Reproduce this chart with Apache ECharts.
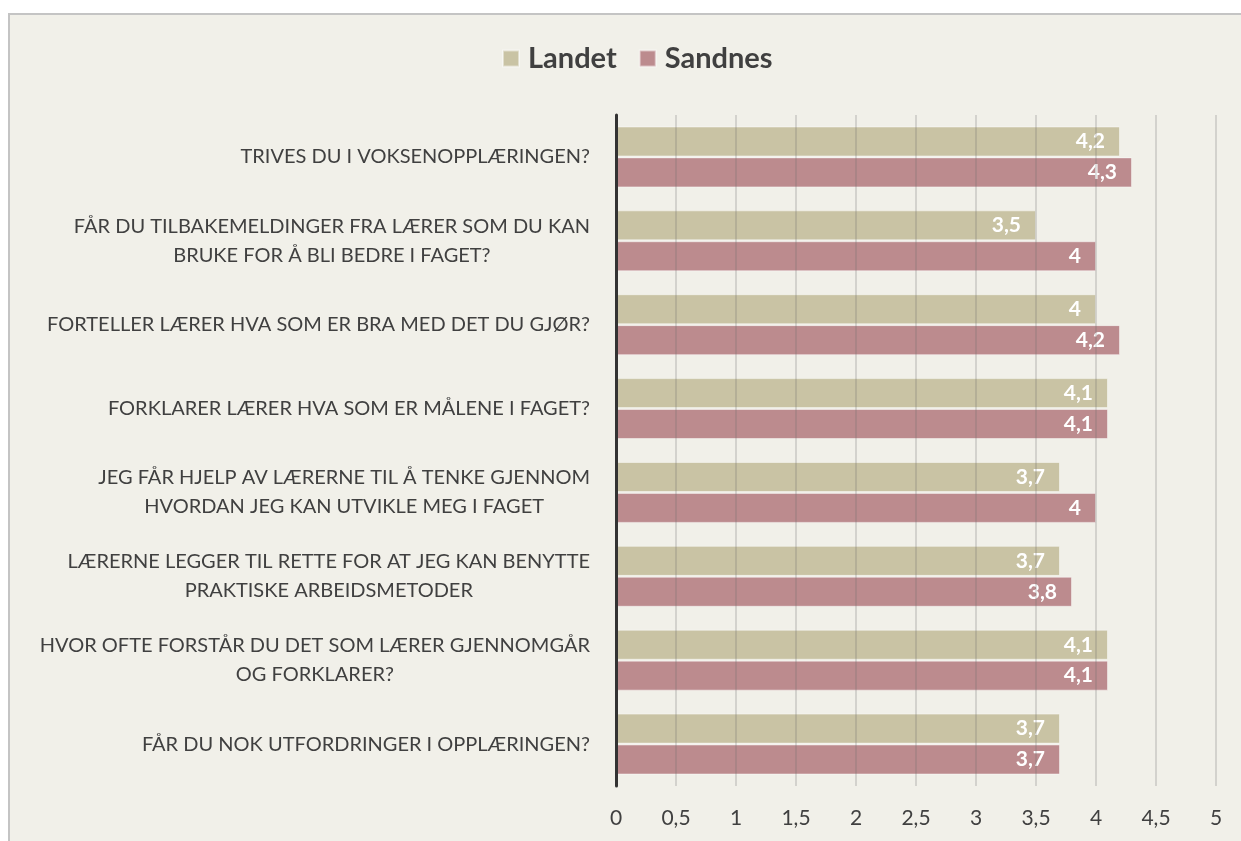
<!DOCTYPE html>
<html>
<head>
<meta charset="utf-8">
<script src="https://cdn.jsdelivr.net/npm/echarts@6/dist/echarts.min.js"></script>
<style>
  html, body { margin: 0; padding: 0; background: #ffffff; }
  #main { width: 1241px; height: 841px; }
</style>
</head>
<body>
<div id="main"></div>
<script>
// spørsmål (kategorier), topp til bunn
const questions = [
  'TRIVES DU I VOKSENOPPLÆRINGEN?',
  'FÅR DU TILBAKEMELDINGER FRA LÆRER SOM DU KAN\nBRUKE FOR Å BLI BEDRE I FAGET?',
  'FORTELLER LÆRER HVA SOM ER BRA MED DET DU GJØR?',
  'FORKLARER LÆRER HVA SOM ER MÅLENE I FAGET?',
  'JEG FÅR HJELP AV LÆRERNE TIL Å TENKE GJENNOM\nHVORDAN JEG KAN UTVIKLE MEG I FAGET',
  'LÆRERNE LEGGER TIL RETTE FOR AT JEG KAN BENYTTE\nPRAKTISKE ARBEIDSMETODER',
  'HVOR OFTE FORSTÅR DU DET SOM LÆRER GJENNOMGÅR\nOG FORKLARER?',
  'FÅR DU NOK UTFORDRINGER I OPPLÆRINGEN?'
]
const landet = [4.2, 3.5, 4, 4.1, 3.7, 3.7, 4.1, 3.7]
const sandnes = [4.3, 4, 4.2, 4.1, 4, 3.8, 4.1, 3.7]

const fontFam = 'Lato, "Open Sans", sans-serif'
const komma = v => String(v).replace('.', ',')

var myChart = echarts.init(document.getElementById('main'))

// verdietikett inne i stolpen
const verdiLabel = {
  show: true,
  position: 'insideRight',
  distance: 15,
  color: '#ffffff',
  fontWeight: 'bold',
  fontSize: 21,
  fontFamily: fontFam,
  formatter: p => komma(p.value)
}

var option = {
  backgroundColor: '#ffffff',
  animation: false,
  textStyle: { fontFamily: fontFam },
  graphic: [
    {
      type: 'rect',
      z: -10,
      silent: true,
      shape: { x: 9, y: 14, width: 1240, height: 840 },
      style: { fill: '#f1f0e9', stroke: '#c4c4c4', lineWidth: 2 }
    }
  ],
  legend: {
    left: 497,
    top: 39,
    itemWidth: 16,
    itemHeight: 16,
    itemGap: 22,
    icon: 'rect',
    data: ['Landet', 'Sandnes'],
    textStyle: {
      fontSize: 29,
      fontWeight: 'bold',
      color: '#404040',
      fontFamily: fontFam,
      padding: [0, 0, 0, 4]
    }
  },
  grid: {
    left: 616,
    right: 25,
    top: 115,
    bottom: 55,
    containLabel: false
  },
  xAxis: {
    type: 'value',
    min: 0,
    max: 5,
    interval: 0.5,
    z: 3,
    axisLine: { show: false },
    axisTick: { show: false },
    splitLine: { show: true, lineStyle: { color: 'rgba(110,110,110,0.3)', width: 1.5 } },
    axisLabel: {
      margin: 22,
      fontSize: 21,
      color: '#404040',
      formatter: v => komma(v)
    }
  },
  yAxis: {
    type: 'category',
    inverse: true,
    data: questions,
    z: 4,
    axisLine: { show: true, lineStyle: { color: '#333333', width: 3 } },
    axisTick: { show: false },
    axisLabel: {
      margin: 26,
      align: 'right',
      lineHeight: 29,
      formatter: function(v) {
        return v.split('\n').map(l => '{c|' + l + '}').join('\n')
      },
      rich: {
        c: { align: 'center', fontSize: 20, color: '#404040', fontFamily: fontFam, lineHeight: 29 }
      }
    }
  },
  series: [
    {
      name: 'Landet',
      type: 'bar',
      barWidth: 30,
      barGap: '3%',
      data: landet,
      itemStyle: { color: '#c9c3a4', borderColor: 'rgba(255,255,255,0.45)', borderWidth: 1 },
      label: verdiLabel
    },
    {
      name: 'Sandnes',
      type: 'bar',
      barWidth: 30,
      data: sandnes,
      itemStyle: { color: '#bc8b8e', borderColor: 'rgba(255,255,255,0.45)', borderWidth: 1 },
      label: verdiLabel
    }
  ]
}
myChart.setOption(option)
</script>
</body>
</html>
